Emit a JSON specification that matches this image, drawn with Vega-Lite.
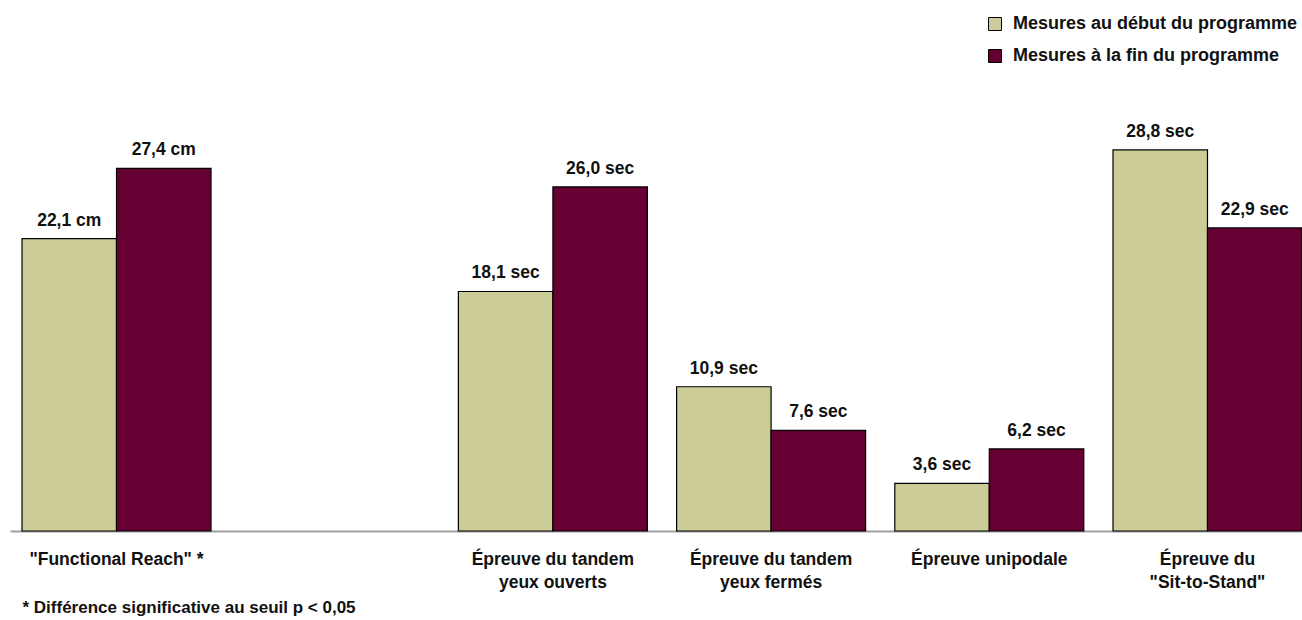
{
  "$schema": "https://vega.github.io/schema/vega-lite/v6.json",
  "width": 1292,
  "height": 397,
  "padding": {"left": 10, "top": 134, "right": 0, "bottom": 89},
  "autosize": {"type": "none"},
  "background": "white",
  "config": {
    "view": {"stroke": null},
    "font": "Liberation Sans"
  },
  "data": {
    "values": [
      {"test": "\"Functional Reach\" *", "serie": "Mesures au début du programme", "valeur": 22.1, "etiquette": "22,1 cm"},
      {"test": "\"Functional Reach\" *", "serie": "Mesures à la fin du programme", "valeur": 27.4, "etiquette": "27,4 cm"},
      {"test": "Épreuve du tandem|yeux ouverts", "serie": "Mesures au début du programme", "valeur": 18.1, "etiquette": "18,1 sec"},
      {"test": "Épreuve du tandem|yeux ouverts", "serie": "Mesures à la fin du programme", "valeur": 26.0, "etiquette": "26,0 sec"},
      {"test": "Épreuve du tandem|yeux fermés", "serie": "Mesures au début du programme", "valeur": 10.9, "etiquette": "10,9 sec"},
      {"test": "Épreuve du tandem|yeux fermés", "serie": "Mesures à la fin du programme", "valeur": 7.6, "etiquette": "7,6 sec"},
      {"test": "Épreuve unipodale", "serie": "Mesures au début du programme", "valeur": 3.6, "etiquette": "3,6 sec"},
      {"test": "Épreuve unipodale", "serie": "Mesures à la fin du programme", "valeur": 6.2, "etiquette": "6,2 sec"},
      {"test": "Épreuve du|\"Sit-to-Stand\"", "serie": "Mesures au début du programme", "valeur": 28.8, "etiquette": "28,8 sec"},
      {"test": "Épreuve du|\"Sit-to-Stand\"", "serie": "Mesures à la fin du programme", "valeur": 22.9, "etiquette": "22,9 sec"}
    ]
  },
  "encoding": {
    "x": {
      "field": "test",
      "type": "nominal",
      "sort": null,
      "scale": {
        "domain": ["\"Functional Reach\" *", " ", "Épreuve du tandem|yeux ouverts", "Épreuve du tandem|yeux fermés", "Épreuve unipodale", "Épreuve du|\"Sit-to-Stand\""],
        "paddingInner": 0.1338,
        "paddingOuter": 0.0275,
        "align": 1
      },
      "axis": {
        "labelAngle": 0,
        "labelExpr": "split(datum.label, '|')",
        "labelFont": "Liberation Sans",
        "labelFontWeight": "bold",
        "labelFontSize": 17.5,
        "labelColor": "#111111",
        "labelLineHeight": 23,
        "labelBaseline": "top",
        "labelPadding": 19,
        "labelLimit": 400,
        "ticks": false,
        "domainColor": "#a0a0a0",
        "domainWidth": 2,
        "title": "* Différence significative au seuil p < 0,05",
        "titleFont": "Liberation Sans",
        "titleFontWeight": "bold",
        "titleFontSize": 17,
        "titleColor": "#111111",
        "titleAnchor": "start",
        "titleAlign": "left",
        "titleBaseline": "middle",
        "titleX": 12,
        "titleY": 76
      }
    },
    "xOffset": {
      "field": "serie",
      "type": "nominal",
      "sort": ["Mesures au début du programme", "Mesures à la fin du programme"],
      "scale": {"paddingInner": 0, "paddingOuter": 0}
    },
    "y": {
      "field": "valeur",
      "type": "quantitative",
      "scale": {"domain": [0, 30], "nice": false},
      "axis": null
    }
  },
  "layer": [
    {
      "mark": {"type": "bar", "stroke": "#000000", "strokeWidth": 1.2},
      "encoding": {
        "color": {
          "field": "serie",
          "type": "nominal",
          "sort": ["Mesures au début du programme", "Mesures à la fin du programme"],
          "scale": {
            "domain": ["Mesures au début du programme", "Mesures à la fin du programme"],
            "range": ["#cccc99", "#660033"]
          },
          "legend": {
            "title": null,
            "orient": "none",
            "legendX": 976,
            "legendY": -119,
            "symbolType": "square",
            "symbolSize": 169,
            "symbolStrokeColor": "#000000",
            "symbolStrokeWidth": 1,
            "symbolOpacity": 1,
            "labelFont": "Liberation Sans",
            "labelFontWeight": "bold",
            "labelFontSize": 18,
            "labelColor": "#111111",
            "labelOffset": 9,
            "labelLimit": 400,
            "rowPadding": 14
          }
        }
      }
    },
    {
      "mark": {
        "type": "text",
        "font": "Liberation Sans",
        "fontWeight": "bold",
        "fontSize": 17.5,
        "color": "#111111",
        "baseline": "alphabetic",
        "dy": -13
      },
      "encoding": {
        "text": {"field": "etiquette"}
      }
    }
  ]
}
